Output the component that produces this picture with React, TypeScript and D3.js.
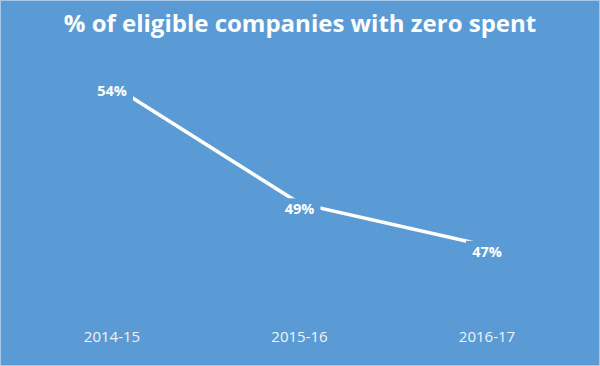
import React from "react";
import * as d3 from "d3";

const categories = ["2014-15", "2015-16", "2016-17"];
const values = [0.543, 0.49, 0.471];
const labels = ["54%", "49%", "47%"];
const title = "% of eligible companies with zero spent";

const W = 600;
const H = 366;
const BG = "#5b9bd5";

export default function App() {
  const x = d3.scalePoint<string>().domain(categories).range([112, 487]);
  const y = d3.scaleLinear().domain([0.44, 0.56]).range([315, 47]);
  const line = d3
    .line<number>()
    .x((_, i) => x(categories[i]) as number)
    .y((d) => y(d));
  const font = "'Open Sans', Calibri, sans-serif";
  return (
    <svg
      width={W}
      height={H}
      style={{ position: "absolute", left: 0, top: 0, display: "block" }}
    >
      <rect x={0} y={0} width={W} height={H} fill={BG} />
      <rect x={0.5} y={0.5} width={W - 1} height={H - 1} fill="none" stroke="#a9c8e8" />
      <text
        x={300}
        y={32}
        textAnchor="middle"
        fill="#ffffff"
        fontFamily={font}
        fontWeight={700}
        fontSize={24}
      >
        {title}
      </text>
      <path d={line(values) ?? ""} fill="none" stroke="#ffffff" strokeWidth={3.5} />
      {values.map((v, i) => {
        const cx = x(categories[i]) as number;
        const cy = y(v) + 6;
        return (
          <g key={i}>
            <rect x={cx - 21} y={cy - 11} width={42} height={22} fill={BG} />
            <text
              x={cx}
              y={cy + 5}
              textAnchor="middle"
              fill="#ffffff"
              fontFamily={font}
              fontWeight={700}
              fontSize={14.5}
            >
              {labels[i]}
            </text>
          </g>
        );
      })}
      {categories.map((c) => (
        <text
          key={c}
          x={x(c) as number}
          y={342}
          textAnchor="middle"
          fill="#f2f2f2"
          fontFamily={font}
          fontSize={15}
        >
          {c}
        </text>
      ))}
    </svg>
  );
}
